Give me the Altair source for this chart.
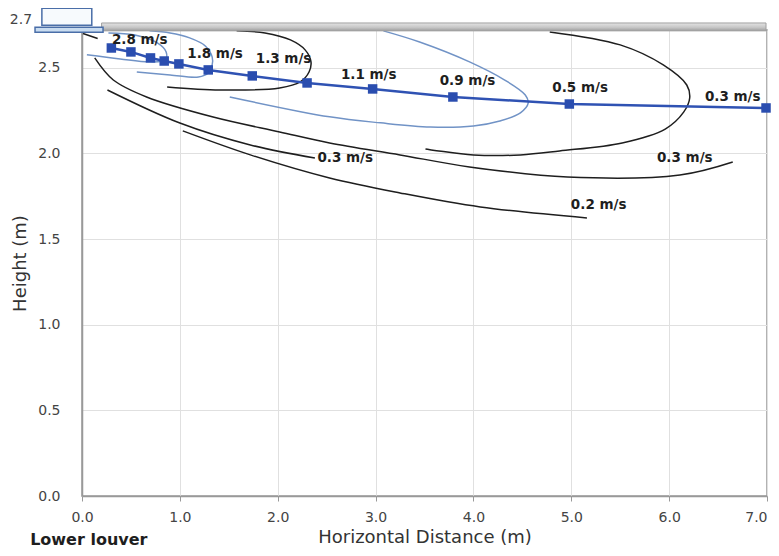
import altair as alt
import pandas as pd

# ---- jet trajectory (centre line) ----
traj_x = [0.30, 0.50, 0.70, 0.84, 0.99, 1.29, 1.74, 2.30, 2.97, 3.79, 4.98, 6.99]
traj_y = [2.615, 2.592, 2.557, 2.539, 2.522, 2.487, 2.452, 2.411, 2.376, 2.329, 2.288, 2.265]

# ---- speed labels ----
lab_text = ["2.8 m/s", "1.8 m/s", "1.3 m/s", "1.1 m/s", "0.9 m/s", "0.5 m/s", "0.3 m/s",
            "0.3 m/s", "0.3 m/s", "0.2 m/s"]
lab_x = [0.59, 1.36, 2.06, 2.93, 3.94, 5.09, 6.65, 2.69, 6.16, 5.28]
lab_y = [2.66, 2.58, 2.55, 2.46, 2.42, 2.38, 2.33, 1.97, 1.97, 1.70]

# ---- iso-velocity contours ----
c_out_x = [0.01, 0.16]
c_out_y = [2.70, 2.67]

c28_x = [0.27, 0.54, 0.77, 0.86, 0.85, 0.69, 0.39, 0.05]
c28_y = [2.703, 2.691, 2.645, 2.592, 2.545, 2.534, 2.551, 2.575]

c18_x = [0.69, 0.90, 1.10, 1.26, 1.33, 1.33, 1.29, 1.19, 0.90, 0.56]
c18_y = [2.715, 2.703, 2.674, 2.627, 2.563, 2.516, 2.469, 2.446, 2.458, 2.475]

c13_x = [1.58, 1.87, 2.13, 2.28, 2.34, 2.32, 2.23, 2.02, 1.41, 0.87]
c13_y = [2.715, 2.703, 2.662, 2.604, 2.534, 2.475, 2.417, 2.382, 2.370, 2.388]

c09_x = [3.08, 3.45, 3.96, 4.32, 4.53, 4.56, 4.48, 4.27, 4.00, 3.56, 3.05, 2.53, 1.51]
c09_y = [2.715, 2.650, 2.534, 2.428, 2.341, 2.294, 2.236, 2.189, 2.160, 2.154, 2.178, 2.213, 2.329]

c05_x = [4.78, 5.50, 5.94, 6.18, 6.21, 6.15, 5.96, 5.52, 4.88, 4.48, 4.00, 3.51]
c05_y = [2.709, 2.633, 2.516, 2.399, 2.323, 2.242, 2.142, 2.061, 2.014, 1.991, 1.991, 2.026]

c03a_x = [0.13, 0.32, 0.66, 1.34, 2.02, 2.53, 3.25, 3.96, 4.96, 6.11, 6.65]
c03a_y = [2.557, 2.428, 2.329, 2.212, 2.125, 2.061, 1.991, 1.921, 1.862, 1.874, 1.950]

c03b_x = [0.26, 1.00, 1.72, 2.38]
c03b_y = [2.370, 2.177, 2.049, 1.973]

c02_x = [1.03, 1.72, 2.53, 3.25, 4.07, 5.16]
c02_y = [2.131, 1.991, 1.856, 1.769, 1.687, 1.623]

contours = [
    ("out", "black", c_out_x, c_out_y),
    ("c28", "blue", c28_x, c28_y),
    ("c18", "blue", c18_x, c18_y),
    ("c13", "black", c13_x, c13_y),
    ("c09", "blue", c09_x, c09_y),
    ("c05", "black", c05_x, c05_y),
    ("c03a", "black", c03a_x, c03a_y),
    ("c03b", "black", c03b_x, c03b_y),
    ("c02", "black", c02_x, c02_y),
]

rows = []
for name, kind, xs, ys in contours:
    for i, (xv, yv) in enumerate(zip(xs, ys)):
        rows.append({"name": name, "kind": kind, "x": xv, "y": yv, "i": i})
cdf = pd.DataFrame(rows)

tdf = pd.DataFrame({"x": traj_x, "y": traj_y, "i": list(range(len(traj_x)))})
ldf = pd.DataFrame({"t": lab_text, "x": lab_x, "y": lab_y})

# ---- ceiling and supply unit ----
rect_names = ["ceiling", "unit_body", "unit_plate"]
rect_x = [0.20, -0.41, -0.48]
rect_x2 = [6.99, 0.10, 0.215]
rect_y = [2.715, 2.748, 2.707]
rect_y2 = [2.761, 2.847, 2.736]
rdf = pd.DataFrame({"n": rect_names, "x": rect_x, "x2": rect_x2, "y": rect_y, "y2": rect_y2})

extra_text = ["2.7", "Lower louver"]
extra_x = [-0.51, -0.53]
extra_y = [2.78, -0.286]

FONT = "DejaVu Sans"
xsc = alt.Scale(domain=[0, 7], nice=False, zero=False)
ysc = alt.Scale(domain=[0, 2.72], nice=False, zero=False)

x_axis = alt.Axis(values=[0, 1, 2, 3, 4, 5, 6, 7], format=".1f", title="Horizontal Distance (m)",
                  grid=True, gridColor="#e0e0e0", domainColor="#999", domainWidth=1.5,
                  tickColor="#999", tickSize=5, labelFont=FONT, labelFontSize=14,
                  labelColor="#444", labelPadding=9, labelFlush=False,
                  labelAlign=alt.expr("datum.value >= 7 ? 'right' : 'center'"),
                  titleFont=FONT, titleFontSize=18, titleFontWeight="normal",
                  titleColor="#333", titlePadding=4)
y_axis = alt.Axis(values=[0, 0.5, 1.0, 1.5, 2.0, 2.5], format=".1f", title="Height (m)",
                  grid=True, gridColor="#e0e0e0", domainColor="#999", domainWidth=1.5,
                  ticks=False, labelFont=FONT, labelFontSize=14, labelColor="#444",
                  labelPadding=22, titleFont=FONT, titleFontSize=18, titleFontWeight="normal",
                  titleColor="#333", titlePadding=8)

X = alt.X("x:Q", scale=xsc, axis=x_axis)
Y = alt.Y("y:Q", scale=ysc, axis=y_axis)

contour_layer = alt.Chart(cdf).mark_line(strokeWidth=1.5, interpolate="catmull-rom").encode(
    x=X, y=Y,
    detail="name:N",
    order=alt.Order("i:Q"),
    color=alt.Color("kind:N", scale=alt.Scale(domain=["black", "blue"], range=["#1e1e1e", "#7193c6"]),
                    legend=None),
)

traj_line = alt.Chart(tdf).mark_line(color="#2f52b3", strokeWidth=2.5).encode(
    x=X, y=Y, order=alt.Order("i:Q"),
)
traj_pts = alt.Chart(tdf).mark_point(shape="square", filled=True, size=90, color="#2a4daf", opacity=1).encode(
    x=X, y=Y,
)

labels = alt.Chart(ldf).mark_text(font=FONT, fontSize=13.5, fontWeight="bold", color="#1e1e1e").encode(
    x=X, y=Y, text="t:N",
)

ceiling = alt.Chart(rdf[rdf.n == "ceiling"]).mark_rect(
    fill=alt.LinearGradient(gradient="linear", x1=0, y1=0, x2=0, y2=1,
                            stops=[alt.GradientStop(color="#e4e4e4", offset=0),
                                   alt.GradientStop(color="#c4c4c4", offset=0.6),
                                   alt.GradientStop(color="#9c9c9c", offset=1)]),
    stroke="#a0a0a0", strokeWidth=1,
).encode(x=X, x2="x2:Q", y=Y, y2="y2:Q")
unit_body = alt.Chart(rdf[rdf.n == "unit_body"]).mark_rect(fill="#f7fafd", stroke="#4a6ea8", strokeWidth=1.5).encode(
    x=X, x2="x2:Q", y=Y, y2="y2:Q")
unit_plate = alt.Chart(rdf[rdf.n == "unit_plate"]).mark_rect(fill="#c9dcf0", stroke="#4a6ea8", strokeWidth=1.5).encode(
    x=X, x2="x2:Q", y=Y, y2="y2:Q")

t27 = alt.Chart(pd.DataFrame({"t": [extra_text[0]], "x": [extra_x[0]], "y": [extra_y[0]]})).mark_text(
    font=FONT, fontSize=14, color="#444", align="right", baseline="middle").encode(
    x=X, y=Y, text="t:N")
tlow = alt.Chart(pd.DataFrame({"t": [extra_text[1]], "x": [extra_x[1]], "y": [extra_y[1]]})).mark_text(
    font=FONT, fontSize=16, fontWeight="bold", color="#1e1e1e", align="left", baseline="alphabetic").encode(
    x=X, y=Y, text="t:N")

chart = alt.layer(
    contour_layer, traj_line, traj_pts, labels, ceiling, unit_body, unit_plate, t27, tlow
).properties(
    width=685, height=466,
    autosize=alt.AutoSizeParams(type="none"),
    padding={"left": 74, "top": 22, "right": 4, "bottom": 52},
    background="white",
).configure_view(stroke="#999", strokeWidth=1.5)

chart.save("out.html", embed_options={"renderer": "svg", "actions": False})
